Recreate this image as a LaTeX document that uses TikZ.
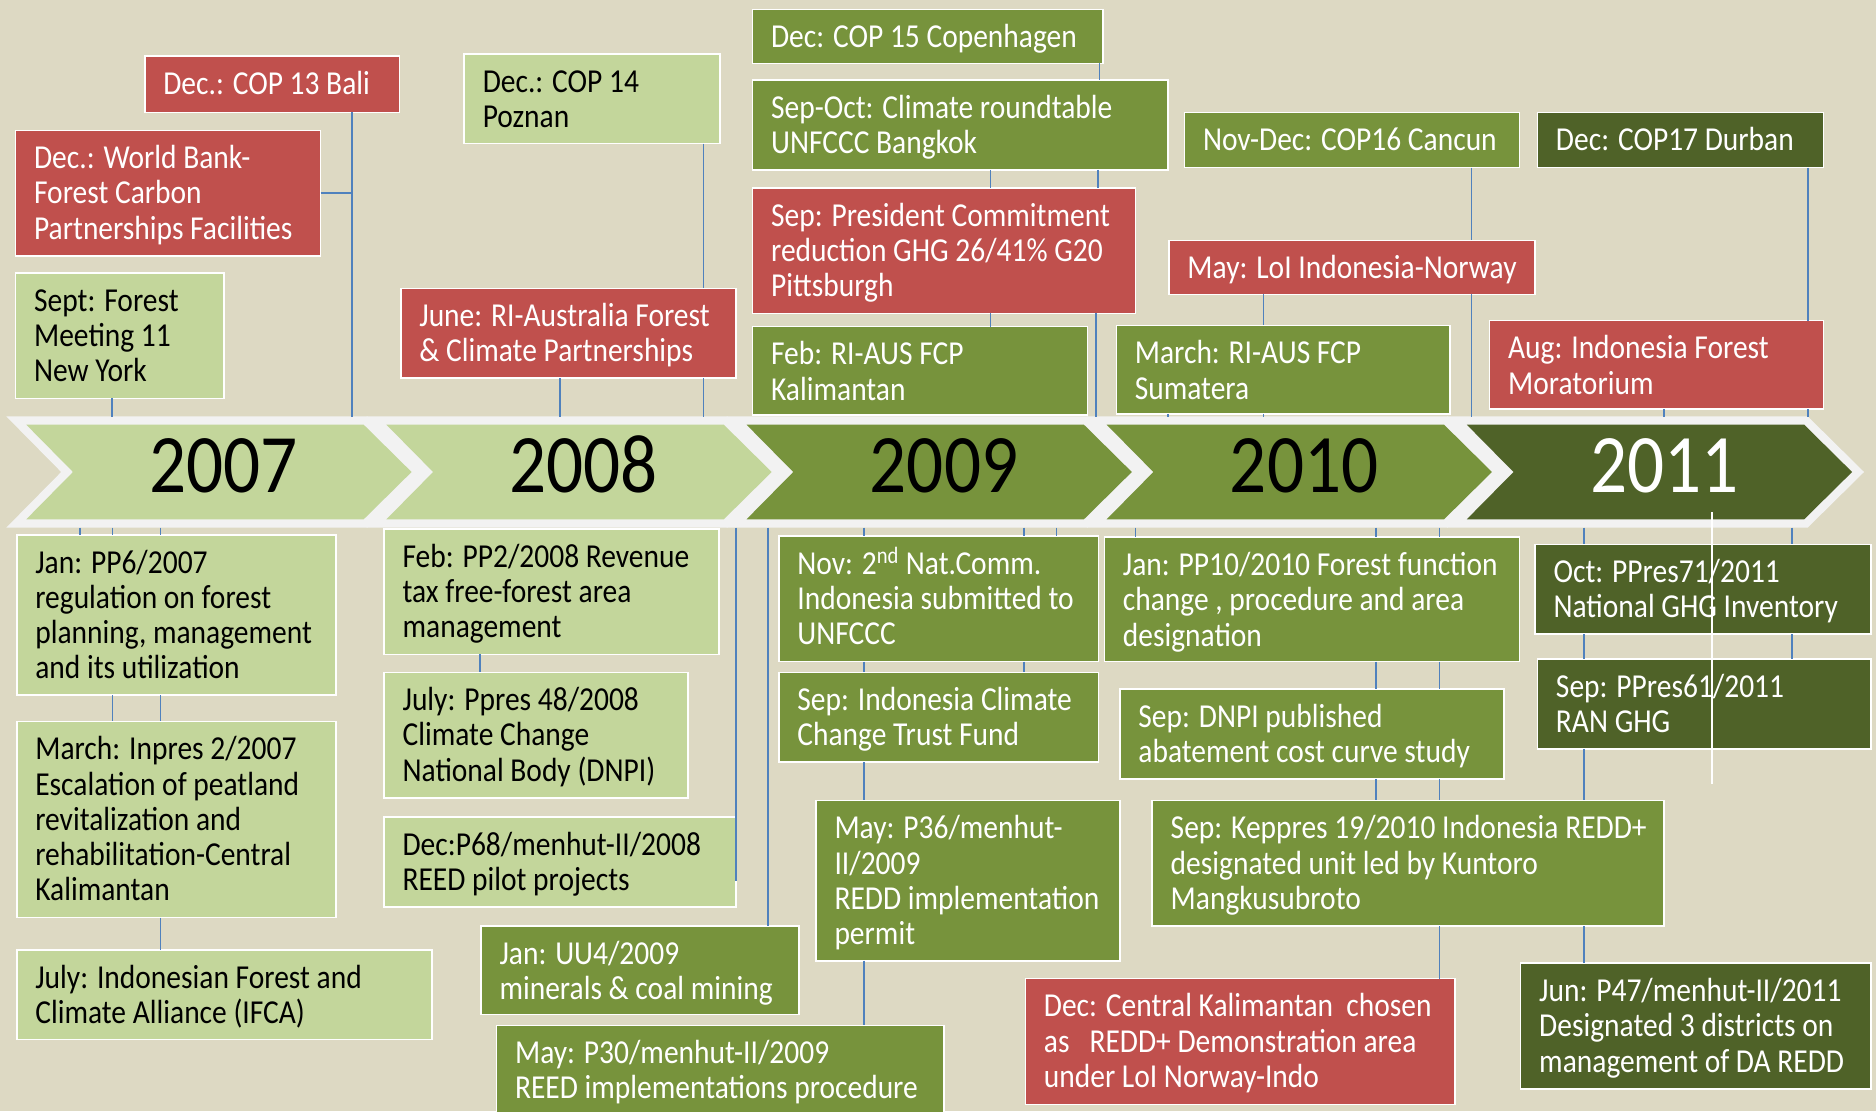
\documentclass[tikz,border=0pt]{standalone}
\usepackage{fontspec}
\setmainfont{Carlito}[FakeStretch=0.88]
\definecolor{bgc}{HTML}{DDD9C3}
\definecolor{lgc}{HTML}{C3D69B}
\definecolor{mgc}{HTML}{77933C}
\definecolor{dgc}{HTML}{4F6228}
\definecolor{rdc}{HTML}{C0504D}
\definecolor{cnc}{HTML}{4F81BD}
\definecolor{bandc}{HTML}{F2F2F2}
\tikzset{
  evt/.style={anchor=north west, inner sep=0pt, outer sep=0pt, draw=white, line width=1.3pt,
    font=\fontsize{28pt}{29.5pt}\selectfont},
  lgbox/.style={evt, fill=lgc, text=black},
  mgbox/.style={evt, fill=mgc, text=white},
  dgbox/.style={evt, fill=dgc, text=white},
  rdbox/.style={evt, fill=rdc, text=white},
  conn/.style={draw=cnc, line width=1.3pt},
  band/.style={draw=bandc, fill=bandc, line width=14pt, line join=miter},
  yearlbl/.style={anchor=base, inner sep=0pt, font=\fontsize{69.5pt}{70pt}\selectfont},
}
\newcommand\evbox[7]{%
  \node[#6] (#1) at (#2,#3)
   {\parbox[t][\dimexpr #5pt-#3pt\relax][t]{\dimexpr #4pt-#2pt\relax}{\raggedright\leftskip=15.5pt\rule{0pt}{32pt}#7}};}
\newcommand\vc[3]{\draw[conn] (#2 -| #1,0) -- (#3 -| #1,0);}
\def\chevpath#1{(#1,355) -- ++(282,0) -- ++(40,39.5) -- ++(-40,39.5) -- ++(-282,0) -- ++(39,-39.5) -- cycle}
\begin{document}
\begin{tikzpicture}[x=1pt,y=-1pt]
\path[use as bounding box] (0,0) rectangle (1568,929);
\fill[bgc] (0,0) rectangle (1568,929);
\clip (0,0) rectangle (1568,929);
\coordinate (tltop) at (0,348.5);
\coordinate (tlbot) at (0,441);
% timeline
\foreach \x in {22,323,624,925,1226} { \path[band] \chevpath{\x}; }
\fill[lgc] \chevpath{22};
\fill[lgc] \chevpath{323};
\fill[mgc] \chevpath{624};
\fill[mgc] \chevpath{925};
\fill[dgc] \chevpath{1226};
\node[yearlbl, text=black] (y2007) at (187,412) {2007};
\node[yearlbl, text=black] (y2008) at (488,412) {2008};
\node[yearlbl, text=black] (y2009) at (789,412) {2009};
\node[yearlbl, text=black] (y2010) at (1090,412) {2010};
\node[yearlbl, text=white] (y2011) at (1391,412) {2011};
% top boxes
\evbox{bali}{121}{47}{334}{94}{rdbox}{Dec.: COP 13 Bali}
\evbox{wbank}{13}{109}{268}{214}{rdbox}{Dec.: World Bank-\\Forest Carbon\\Partnerships Facilities}
\evbox{sept}{13}{228}{187}{333}{lgbox}{Sept: Forest\\Meeting 11\\New York}
\evbox{cop14}{388}{45}{602}{120}{lgbox}{Dec.: COP 14\\Poznan}
\evbox{june}{335}{241}{615}{316}{rdbox}{June: RI-Australia Forest\\\& Climate Partnerships}
\evbox{cop15}{629}{8}{922}{53}{mgbox}{Dec: COP 15 Copenhagen}
\evbox{sepoct}{629}{67}{976}{142}{mgbox}{Sep-Oct: Climate roundtable\\UNFCCC Bangkok}
\evbox{pres}{629}{157}{949}{262}{rdbox}{Sep: President Commitment\\reduction GHG 26/41\% G20\\Pittsburgh}
\evbox{feb}{629}{273}{909}{347}{mgbox}{Feb: RI-AUS FCP\\Kalimantan}
\evbox{cop16}{990}{94}{1270}{140}{mgbox}{Nov-Dec: COP16 Cancun}
\evbox{loi}{977}{201}{1283}{246}{rdbox}{May: LoI Indonesia-Norway}
\evbox{march}{933}{272}{1212}{346}{mgbox}{March: RI-AUS FCP\\Sumatera}
\evbox{cop17}{1285}{94}{1524}{140}{dgbox}{Dec: COP17 Durban}
\evbox{aug}{1245}{268}{1524}{342}{rdbox}{Aug: Indonesia Forest\\Moratorium}
% bottom boxes
\evbox{pp6}{14}{447}{281}{581}{lgbox}{Jan: PP6/2007\\regulation on forest\\planning, management\\and its utilization}
\evbox{inpres}{14}{603}{281}{767}{lgbox}{March: Inpres 2/2007\\Escalation of peatland\\revitalization and\\rehabilitation-Central\\Kalimantan}
\evbox{ifca}{14}{794}{361}{869}{lgbox}{July: Indonesian Forest and\\Climate Alliance (IFCA)}
\evbox{pp2}{321}{442}{601}{547}{lgbox}{Feb: PP2/2008 Revenue\\tax free-forest area\\management}
\evbox{ppres48}{321}{562}{575}{667}{lgbox}{July: Ppres 48/2008\\Climate Change\\National Body (DNPI)}
\evbox{p68}{321}{683}{615}{758}{lgbox}{Dec:P68/menhut-II/2008\\REED pilot projects}
\evbox{uu4}{402}{774}{668}{848}{mgbox}{Jan: UU4/2009\\minerals \& coal mining}
\evbox{p30}{415}{857}{789}{960}{mgbox}{May: P30/menhut-II/2009\\REED implementations procedure}
\evbox{natcom}{651}{448}{918}{553}{mgbox}{Nov: 2\textsuperscript{nd} Nat.Comm.\\Indonesia submitted to\\UNFCCC}
\evbox{icctf}{651}{562}{918}{637}{mgbox}{Sep: Indonesia Climate\\Change Trust Fund}
\evbox{p36}{682}{669}{936}{803}{mgbox}{May: P36/menhut-\\II/2009\\REDD implementation\\permit}
\evbox{pp10}{923}{449}{1270}{553}{mgbox}{Jan: PP10/2010 Forest function\\change , procedure and area\\designation}
\evbox{study}{936}{576}{1257}{651}{mgbox}{Sep: DNPI published\\abatement cost curve study}
\evbox{keppres}{963}{669}{1391}{774}{mgbox}{Sep: Keppres 19/2010 Indonesia REDD+\\designated unit led by Kuntoro\\Mangkusubroto}
\evbox{central}{857}{818}{1216}{923}{rdbox}{Dec: Central Kalimantan\ \ chosen\\as\ \ \ REDD+ Demonstration area\\under LoI Norway-Indo}
\evbox{ppres71}{1283}{455}{1564}{530}{dgbox}{Oct: PPres71/2011\\National GHG Inventory}
\evbox{ppres61}{1285}{551}{1564}{626}{dgbox}{Sep: PPres61/2011\\RAN GHG}
\evbox{p47}{1271}{805}{1564}{910}{dgbox}{Jun: P47/menhut-II/2011\\Designated 3 districts on\\management of DA REDD}
% connectors (top)
\vc{294}{bali.south}{tltop}
\draw[conn] (wbank.east) -- (wbank.east -| 294,0);
\vc{93.6}{sept.south}{tltop}
\vc{588}{cop14.south}{june.north}
\vc{588}{june.south}{tltop}
\vc{468}{june.south}{tltop}
\vc{919}{cop15.south}{sepoct.north}
\vc{828}{sepoct.south}{pres.north}
\vc{917.5}{sepoct.south}{pres.north}
\vc{828}{pres.south}{feb.north}
\vc{916}{pres.south}{tltop}
\vc{1230}{cop16.south}{loi.north}
\vc{1230}{loi.south}{tltop}
\vc{1056}{loi.south}{march.north}
\vc{1056}{march.south}{tltop}
\vc{976}{march.south}{tltop}
\vc{1511}{cop17.south}{aug.north}
\vc{1511}{aug.south}{tltop}
\vc{1391}{aug.south}{tltop}
% connectors (bottom)
\vc{67}{tlbot}{pp6.north}
\vc{94}{tlbot}{pp6.north}
\vc{94}{pp6.south}{inpres.north}
\vc{134}{tlbot}{pp6.north}
\vc{134}{pp6.south}{inpres.north}
\vc{134}{inpres.south}{ifca.north}
\vc{401}{pp2.south}{ppres48.north}
\draw[conn] (tlbot -| 615,0) -- ([yshift=-16pt]p68.east);
\vc{642}{tlbot}{uu4.north}
\vc{722}{tlbot}{natcom.north}
\vc{722}{natcom.south}{icctf.north}
\vc{722}{icctf.south}{p36.north}
\vc{722}{p36.south}{p30.north}
\vc{856}{tlbot}{natcom.north}
\vc{856}{natcom.south}{icctf.north}
\vc{883}{tlbot}{natcom.north}
\vc{949}{tlbot}{pp10.north}
\vc{1150}{tlbot}{pp10.north}
\vc{1150}{pp10.south}{study.north}
\vc{1150}{study.south}{keppres.north}
\vc{1203}{tlbot}{pp10.north}
\vc{1203}{pp10.south}{study.north}
\vc{1203}{study.south}{keppres.north}
\vc{1203}{keppres.south}{central.north}
\vc{1324}{tlbot}{ppres71.north}
\vc{1324}{ppres71.south}{ppres61.north}
\vc{1324}{ppres61.south}{keppres.north}
\vc{1324}{keppres.south}{p47.north}
\vc{1498}{tlbot}{ppres71.north}
\vc{1498}{ppres71.south}{ppres61.north}
% white marker line
\coordinate (wl1) at (1431,428);
\coordinate (wl2) at (1431,655);
\draw[white, line width=1.3pt] (wl1) -- (wl2);
\end{tikzpicture}
\end{document}
